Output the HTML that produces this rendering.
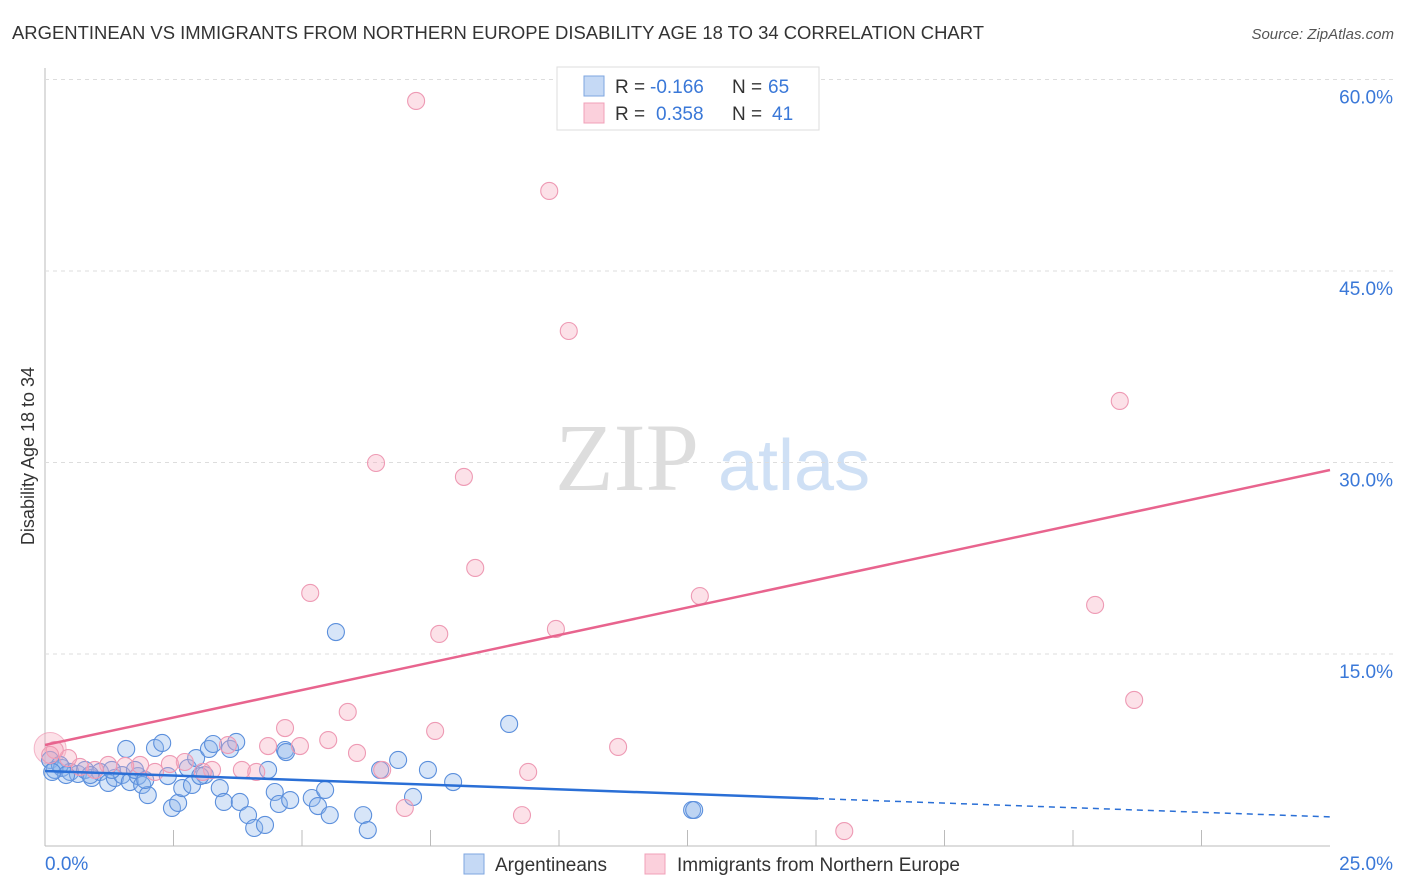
<!DOCTYPE html>
<html><head><meta charset="utf-8"><style>
body{margin:0;background:#fff;font-family:"Liberation Sans",sans-serif;}
#wrap{position:relative;width:1406px;height:892px;overflow:hidden;}
</style></head><body>
<div id="wrap">
<svg id="svg" width="1406" height="892" xmlns="http://www.w3.org/2000/svg">
<text x="12" y="39" font-size="18" fill="#333" textLength="972" lengthAdjust="spacingAndGlyphs">ARGENTINEAN VS IMMIGRANTS FROM NORTHERN EUROPE DISABILITY AGE 18 TO 34 CORRELATION CHART</text>
<text x="1394" y="39" font-size="15" fill="#555" font-style="italic" text-anchor="end">Source: ZipAtlas.com</text>
<text x="34" y="456" font-size="18" fill="#333" text-anchor="middle" transform="rotate(-90 34 456)">Disability Age 18 to 34</text>
<text x="555" y="490" font-size="96" fill="#ddd" font-family="Liberation Serif,serif">ZIP</text>
<text x="718" y="490" font-size="72" fill="#cfe0f5">atlas</text>
<g id="grid"></g><g id="marks"></g>
<g>
<rect x="557" y="67" width="262" height="63" fill="#fff" stroke="#ddd"/>
<rect x="584" y="76" width="20" height="20" fill="#c5d9f5" stroke="#7ea6e0"/>
<rect x="584" y="103" width="20" height="20" fill="#fbd0dc" stroke="#f0a0b8"/>
<text x="615" y="93" font-size="19" fill="#333">R =</text>
<text x="650" y="93" font-size="19" fill="#3a78d8">-0.166</text>
<text x="732" y="93" font-size="19" fill="#333">N =</text>
<text x="768" y="93" font-size="19" fill="#3a78d8">65</text>
<text x="615" y="120" font-size="19" fill="#333">R =</text>
<text x="656" y="120" font-size="19" fill="#3a78d8">0.358</text>
<text x="732" y="120" font-size="19" fill="#333">N =</text>
<text x="772" y="120" font-size="19" fill="#3a78d8">41</text>
</g>
<g>
<rect x="464" y="854" width="20" height="20" fill="#c5d9f5" stroke="#7ea6e0"/>
<text x="495" y="871" font-size="19" fill="#333">Argentineans</text>
<rect x="645" y="854" width="20" height="20" fill="#fbd0dc" stroke="#f0a0b8"/>
<text x="677" y="871" font-size="19" fill="#333">Immigrants from Northern Europe</text>
</g>
</svg></div>
<script>
const blueX=[0.10,0.19,0.33,0.49,0.64,0.78,0.91,1.07,1.23,1.36,1.50,1.58,1.65,1.81,1.89,2.00,2.14,2.28,2.39,2.47,2.59,2.67,2.78,2.86,2.94,3.11,3.19,3.27,3.40,3.48,3.60,3.72,3.79,3.95,4.07,4.28,4.34,4.47,4.55,4.67,4.77,5.19,5.31,5.45,5.54,5.66,6.19,6.28,6.52,6.87,7.16,7.45,7.94,9.03,12.59,12.63,0.29,0.41,0.88,1.30,1.75,1.95,3.02,4.69,0.14];
const blueY=[6.70,5.92,6.07,5.76,5.60,5.92,5.29,5.76,4.90,5.29,5.52,7.56,4.97,5.44,4.74,3.95,7.64,8.03,5.44,2.94,3.33,4.50,6.07,4.74,6.85,5.52,7.56,7.95,4.50,3.41,7.56,8.11,3.41,2.38,1.37,1.61,5.92,4.19,3.25,7.48,3.56,3.72,3.09,4.35,2.38,16.72,2.38,1.21,5.92,6.70,3.80,5.92,4.97,9.52,2.78,2.78,6.31,5.52,5.52,5.92,5.92,5.13,5.44,7.32,5.76];
const pinkX=[7.22,9.81,10.19,20.91,6.44,8.15,8.37,5.16,12.74,20.43,9.94,7.67,21.19,5.89,7.59,4.67,5.51,4.34,4.96,3.56,11.15,6.07,6.56,9.40,3.83,4.11,3.25,3.07,2.72,2.43,2.14,1.85,1.56,1.23,0.97,0.68,0.45,0.19,0.10,7.00,9.28,15.55];
const pinkY=[58.32,51.27,40.30,34.82,29.96,28.87,21.74,19.78,19.54,18.84,16.96,16.57,11.40,10.46,8.97,9.20,8.26,7.79,7.79,7.87,7.72,7.25,5.92,5.76,5.92,5.76,5.92,5.76,6.54,6.38,5.76,6.31,6.23,6.31,5.92,6.15,6.85,7.48,7.09,2.94,2.38,1.13];
const yTicks=[15,30,45,60];
const yTickLabels=["15.0%","30.0%","45.0%","60.0%"];
const xTickLabels=["0.0%","25.0%"];
const blueLine=[5.84,2.24], blueSolidEnd=15.04;
const pinkLine=[7.87,29.41];

const X=v=>45+v/25*1285, Y=v=>845.5-v/15*191.5;
const NS="http://www.w3.org/2000/svg";
function mk(tag,attrs,parent){const e=document.createElementNS(NS,tag);for(const k in attrs)e.setAttribute(k,attrs[k]);parent.appendChild(e);return e;}
const grid=document.getElementById('grid'), marks=document.getElementById('marks');
let ax=mk('line',{x1:45,y1:68,x2:45,y2:846,stroke:'#bbb'},grid);


let bx=mk('line',{x1:45,y1:846,x2:1330,y2:846,stroke:'#bbb'},grid);


for(let i=1;i<10;i++){const t=mk('line',{x1:45+i*128.5,y1:830,x2:45+i*128.5,y2:846,stroke:'#bbb'},grid);

}
yTicks.forEach((v,i)=>{
 const g=mk('line',{x1:45,y1:Y(v),x2:1393,y2:Y(v),stroke:'#ddd','stroke-dasharray':'4 4'},grid);
 
 
 const t=mk('text',{x:1393,y:Y(v)+24,'font-size':19,fill:'#3a78d8','text-anchor':'end'},grid);t.textContent=yTickLabels[i];
 
 
});
xTickLabels.forEach((s,i)=>{const t=mk('text',{x:i?1393:45,y:870,'font-size':19,fill:'#3a78d8','text-anchor':i?'end':'start'},grid);t.textContent=s;
 
 });
let big=mk('circle',{cx:X(0.1),cy:Y(7.6),r:16,fill:'rgba(245,170,190,0.35)',stroke:'rgba(236,140,170,0.6)'},marks);


blueX.forEach((v,i)=>{const c=mk('circle',{cx:X(v),cy:Y(blueY[i]),r:8.5,fill:'rgba(140,180,235,0.35)',stroke:'#5b8fdc','stroke-width':1.1},marks);
 
 });
pinkX.forEach((v,i)=>{const c=mk('circle',{cx:X(v),cy:Y(pinkY[i]),r:8.5,fill:'rgba(245,170,190,0.35)',stroke:'#ee9ab4','stroke-width':1.1},marks);
 
 });
const by=v=>blueLine[0]+(blueLine[1]-blueLine[0])*v/25;
let l1=mk('line',{x1:X(0),y1:Y(by(0)),x2:X(blueSolidEnd),y2:Y(by(blueSolidEnd)),stroke:'#2a6fd6','stroke-width':2.5},marks);


let l2=mk('line',{x1:X(blueSolidEnd),y1:Y(by(blueSolidEnd)),x2:X(25),y2:Y(by(25)),stroke:'#2a6fd6','stroke-width':1.5,'stroke-dasharray':'6 5'},marks);


let l3=mk('line',{x1:X(0),y1:Y(pinkLine[0]),x2:X(25),y2:Y(pinkLine[1]),stroke:'#e8648e','stroke-width':2.5},marks);


</script>
</body></html>
